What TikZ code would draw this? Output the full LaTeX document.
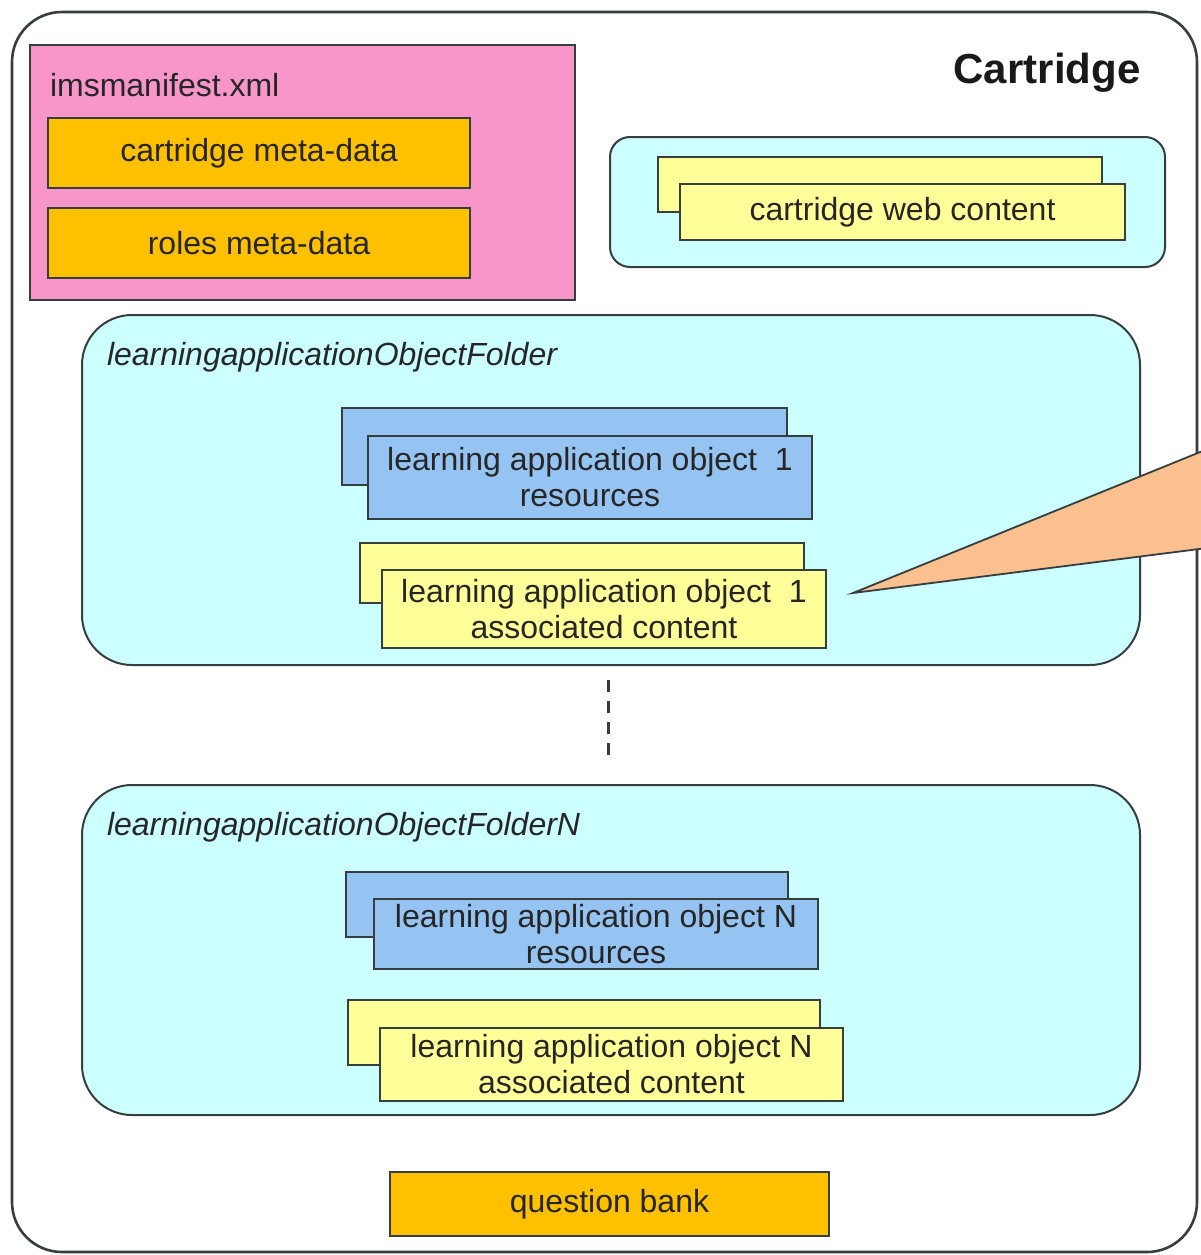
\documentclass[tikz,border=0pt]{standalone}
\usepackage{fontspec}
\setmainfont{Liberation Sans}
\definecolor{edge}{RGB}{55,62,62}
\definecolor{pinkfill}{RGB}{248,150,202}
\definecolor{goldfill}{RGB}{255,192,0}
\definecolor{cyanfill}{RGB}{204,255,255}
\definecolor{yellowfill}{RGB}{255,255,153}
\definecolor{bluefill}{RGB}{150,196,242}
\definecolor{peachfill}{RGB}{250,192,143}
\begin{document}
\begin{tikzpicture}[x=1pt,y=-1pt,
  every node/.style={inner sep=0pt, outer sep=0pt},
  txt/.style={font=\fontsize{32}{36}\selectfont, text=black!85, align=center},
  plainbox/.style={draw=edge, line width=2pt},
  manifest/.style={plainbox, fill=pinkfill},
  metabox/.style={plainbox, fill=goldfill, txt},
  folder/.style={plainbox, fill=cyanfill, rounded corners=50pt},
  webgroup/.style={plainbox, fill=cyanfill, rounded corners=20pt},
  yelbox/.style={plainbox, fill=yellowfill, txt},
  bluebox/.style={plainbox, fill=bluefill, txt},
  foldlabel/.style={font=\fontsize{32}{36}\selectfont\itshape, text=black!85, anchor=west}
]
\useasboundingbox (0,0) rectangle (1200,1255);
\fill[white] (0,0) rectangle (1200,1255);

% outer cartridge frame
\node[draw=edge, line width=2.6pt, rounded corners=50pt, minimum width=1185pt, minimum height=1240pt] (cart) at (604.5,632) {};
\node[font=\fontsize{42}{48}\selectfont\bfseries, text=black!90] (carttitle) at (1047,73) {Cartridge};

% manifest
\node[manifest, minimum width=545pt, minimum height=255pt] (manifest) at (302.5,172.5) {};
\node[txt, anchor=west] (manlabel) at (50,85) {imsmanifest.xml};
\node[metabox, minimum width=422pt, minimum height=70pt] (cmeta) at (259,153) {cartridge meta-data};
\node[metabox, minimum width=422pt, minimum height=70pt] (rmeta) at (259,243) {roles meta-data};

% web content
\node[webgroup, minimum width=555pt, minimum height=130pt] (web) at (887.5,202) {};
\node[plainbox, fill=yellowfill, minimum width=444pt, minimum height=55pt] (webback) at (880,184.5) {};
\node[yelbox, minimum width=445pt, minimum height=56pt] (webfront) at (902.5,212) {cartridge web content};

% first learning application object folder
\node[folder, minimum width=1058pt, minimum height=350pt] (folder1) at (611,490) {};
\node[foldlabel] (f1label) at (107,357) {learningapplicationObjectFolder};
\node[plainbox, fill=bluefill, minimum width=445pt, minimum height=77pt] (res1back) at (564.5,446.5) {};
\node[bluebox, minimum width=444pt, minimum height=83pt] (res1) at (590,477) {learning application object \ 1\\resources};
\node[plainbox, fill=yellowfill, minimum width=444pt, minimum height=60pt] (con1back) at (582,573) {};
\node[yelbox, minimum width=444pt, minimum height=78pt] (con1) at (604,609) {learning application object \ 1\\associated content};

% continuation marker
\path (folder1.south) ++(-3,15) coordinate (dtop);
\path (dtop) ++(0,80) coordinate (dbot);
\draw[edge, line width=3pt, dash pattern=on 12pt off 9pt] (dtop) -- (dbot);

% last learning application object folder
\node[folder, minimum width=1058pt, minimum height=330pt] (folderN) at (611,950) {};
\node[foldlabel] (fNlabel) at (107,827) {learningapplicationObjectFolderN};
\node[plainbox, fill=bluefill, minimum width=442pt, minimum height=65pt] (resNback) at (567,904.5) {};
\node[bluebox, minimum width=444pt, minimum height=70pt] (resN) at (596,934) {learning application object N\\resources};
\node[plainbox, fill=yellowfill, minimum width=472pt, minimum height=65pt] (conNback) at (584,1032.5) {};
\node[yelbox, minimum width=463pt, minimum height=73pt] (conN) at (611.5,1064) {learning application object N\\associated content};

% question bank
\node[metabox, minimum width=439pt, minimum height=64pt] (qbank) at (609.5,1204) {question bank};

% callout wedge pointing at the first associated content
\coordinate (tip) at (853,593);
\coordinate (wtop) at (1215,446);
\coordinate (wbot) at (1215,547);
\filldraw[fill=peachfill, draw=edge, line width=1.8pt, line join=miter] (tip) -- (wtop) -- (wbot) -- cycle;
\end{tikzpicture}
\end{document}
